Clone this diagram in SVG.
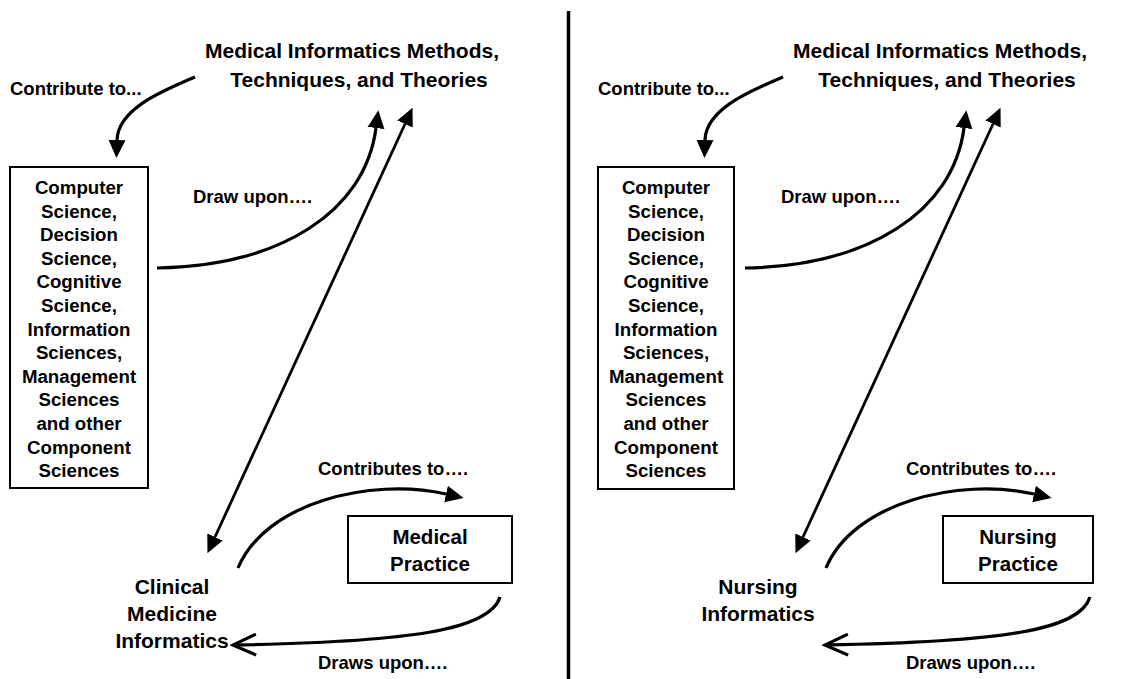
<svg xmlns="http://www.w3.org/2000/svg" width="1127" height="679" viewBox="0 0 1127 679">
  <style>
    text { font-family: "Liberation Sans", Arial, sans-serif; font-weight: bold; fill: #000; text-anchor: middle; }
    .title { font-size: 21px; }
    .label { font-size: 18.5px; text-anchor: start; }
    .box-text { font-size: 18.7px; }
    .node-text { font-size: 21px; }
    .practice-text { font-size: 20.5px; }
    .box { fill: #fff; stroke: #000; stroke-width: 2; }
    .curve { fill: none; stroke: #000; stroke-width: 3.2; }
    .straight { fill: none; stroke: #000; stroke-width: 2.8; }
  </style>
  <defs>
    <marker id="head" markerUnits="userSpaceOnUse" markerWidth="18" markerHeight="18" viewBox="0 0 18 18" refX="0" refY="9" orient="auto-start-reverse">
      <path d="M0,0.5 L18,9 L0,17.5 z" fill="#000"/>
    </marker>
    <marker id="chevron" markerUnits="userSpaceOnUse" markerWidth="30" markerHeight="30" viewBox="-27 -15 30 30" refX="0" refY="0" orient="auto">
      <path d="M-23,-10.5 L0,0 L-23,10.5" fill="none" stroke="#000" stroke-width="3.2"/>
    </marker>
  </defs>

  <rect width="1127" height="679" fill="#fff"/>

  <!-- panel divider -->
  <line x1="568.5" y1="11" x2="568.5" y2="679" stroke="#000" stroke-width="3.5"/>

  <!-- connectors: left panel, repeated for the right panel -->
  <g id="connectors">
    <g id="connectors-left">
      <path class="curve" d="M195,77 C165,90 118,108 117,140" marker-end="url(#head)"/>
      <path class="curve" d="M157,268 C280,266 365,212 376,128" marker-end="url(#head)"/>
      <path class="straight" d="M405,124 L215,537" marker-start="url(#head)" marker-end="url(#head)"/>
      <path class="curve" d="M238,568 C265,503 370,477 446,494" marker-end="url(#head)"/>
      <path class="curve" d="M500,597 C490,630 410,642 233,645" marker-end="url(#chevron)"/>
    </g>
    <g id="connectors-right" transform="translate(588,0)">
      <path class="curve" d="M195,77 C165,90 118,108 117,140" marker-end="url(#head)"/>
      <path class="curve" d="M157,268 C280,266 365,212 376,128" marker-end="url(#head)"/>
      <path class="straight" d="M405,124 L215,537" marker-start="url(#head)" marker-end="url(#head)"/>
      <path class="curve" d="M238,568 C265,503 370,477 446,494" marker-end="url(#head)"/>
      <path class="curve" d="M502,597 C492,630 415,642 237,645" marker-end="url(#chevron)"/>
    </g>
  </g>

  <!-- connector labels -->
  <g id="labels-left">
    <text class="label" x="10" y="95">Contribute to...</text>
    <text class="label" x="193" y="203">Draw upon….</text>
    <text class="label" x="318" y="475">Contributes to….</text>
    <text class="label" x="318" y="669">Draws upon….</text>
  </g>
  <g id="labels-right" transform="translate(588,0)">
    <text class="label" x="10" y="95">Contribute to...</text>
    <text class="label" x="193" y="203">Draw upon….</text>
    <text class="label" x="318" y="475">Contributes to….</text>
    <text class="label" x="318" y="669">Draws upon….</text>
  </g>

  <!-- left panel nodes -->
  <g id="methods-left">
    <text class="title" x="352" y="58">Medical Informatics Methods,</text>
    <text class="title" x="359" y="87">Techniques, and Theories</text>
  </g>
  <g id="sciences-left">
    <rect class="box" x="10" y="167" width="138" height="321"/>
    <text class="box-text" x="79" y="194">Computer</text>
    <text class="box-text" x="79" y="217.6">Science,</text>
    <text class="box-text" x="79" y="241.2">Decision</text>
    <text class="box-text" x="79" y="264.8">Science,</text>
    <text class="box-text" x="79" y="288.4">Cognitive</text>
    <text class="box-text" x="79" y="312">Science,</text>
    <text class="box-text" x="79" y="335.6">Information</text>
    <text class="box-text" x="79" y="359.2">Sciences,</text>
    <text class="box-text" x="79" y="382.8">Management</text>
    <text class="box-text" x="79" y="406.4">Sciences</text>
    <text class="box-text" x="79" y="430">and other</text>
    <text class="box-text" x="79" y="453.6">Component</text>
    <text class="box-text" x="79" y="477.2">Sciences</text>
  </g>
  <g id="clinical-informatics">
    <text class="node-text" x="172" y="594">Clinical</text>
    <text class="node-text" x="172" y="621">Medicine</text>
    <text class="node-text" x="172" y="648">Informatics</text>
  </g>
  <g id="medical-practice">
    <rect class="box" x="348" y="516" width="164" height="67"/>
    <text class="practice-text" x="430" y="544">Medical</text>
    <text class="practice-text" x="430" y="571">Practice</text>
  </g>

  <!-- right panel nodes -->
  <g id="methods-right" transform="translate(588,0)">
    <text class="title" x="352" y="58">Medical Informatics Methods,</text>
    <text class="title" x="359" y="87">Techniques, and Theories</text>
  </g>
  <g id="sciences-right" transform="translate(588,0)">
    <rect class="box" x="10" y="167" width="136" height="322"/>
    <text class="box-text" x="78" y="194">Computer</text>
    <text class="box-text" x="78" y="217.6">Science,</text>
    <text class="box-text" x="78" y="241.2">Decision</text>
    <text class="box-text" x="78" y="264.8">Science,</text>
    <text class="box-text" x="78" y="288.4">Cognitive</text>
    <text class="box-text" x="78" y="312">Science,</text>
    <text class="box-text" x="78" y="335.6">Information</text>
    <text class="box-text" x="78" y="359.2">Sciences,</text>
    <text class="box-text" x="78" y="382.8">Management</text>
    <text class="box-text" x="78" y="406.4">Sciences</text>
    <text class="box-text" x="78" y="430">and other</text>
    <text class="box-text" x="78" y="453.6">Component</text>
    <text class="box-text" x="78" y="477.2">Sciences</text>
  </g>
  <g id="nursing-informatics" transform="translate(588,0)">
    <text class="node-text" x="170" y="594">Nursing</text>
    <text class="node-text" x="170" y="621">Informatics</text>
  </g>
  <g id="nursing-practice" transform="translate(588,0)">
    <rect class="box" x="355" y="516" width="150" height="67"/>
    <text class="practice-text" x="430" y="544">Nursing</text>
    <text class="practice-text" x="430" y="571">Practice</text>
  </g>
</svg>
